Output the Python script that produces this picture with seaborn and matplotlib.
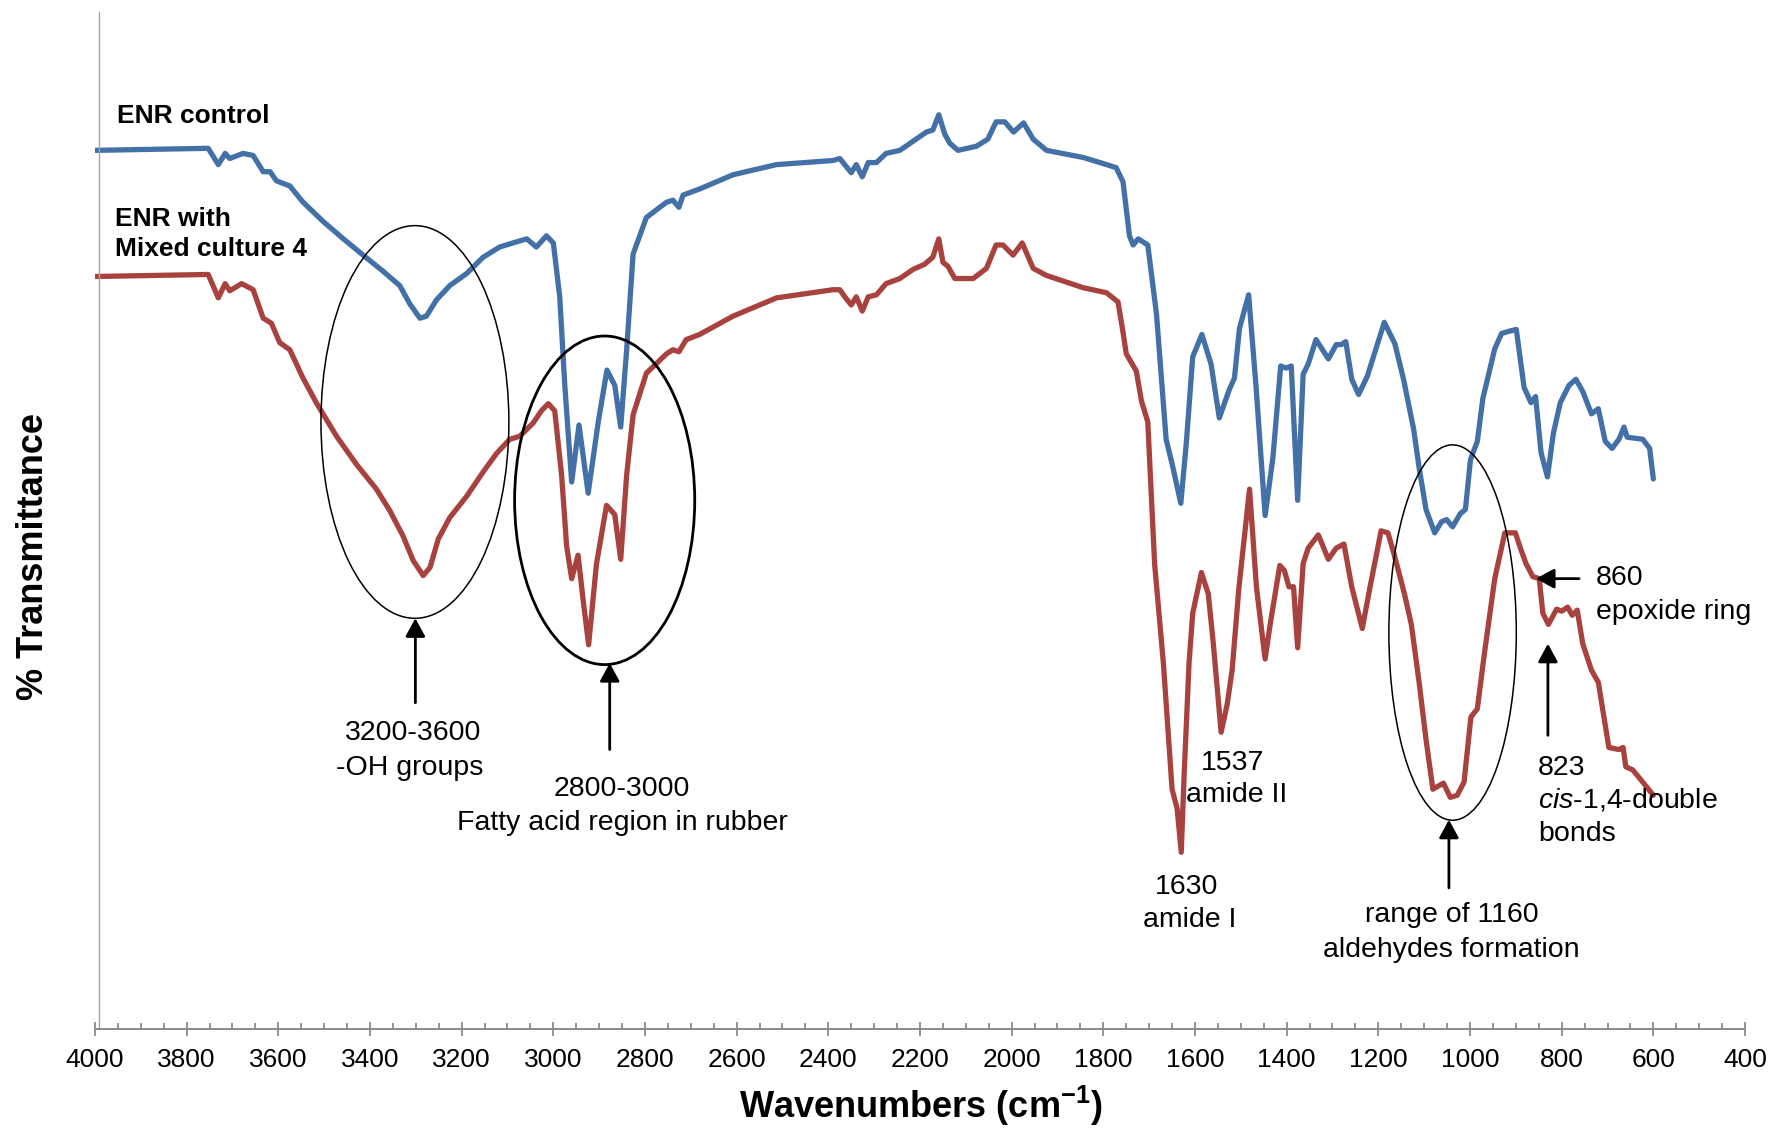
import numpy as np
import pandas as pd
import matplotlib
matplotlib.use("Agg")
import matplotlib.pyplot as plt
from matplotlib.patches import Ellipse
import seaborn as sns

# ---- FTIR spectra (wavenumber in cm-1, % transmittance) ----
control_wn = [4000, 3753, 3731, 3716, 3706, 3677, 3655, 3633, 3618, 3604, 3575, 3546,
              3502, 3458, 3415, 3371, 3335, 3313, 3291, 3277, 3255, 3226, 3189, 3153,
              3117, 3088, 3058, 3037, 3015, 3000, 2986, 2975, 2960, 2944, 2924, 2902,
              2883, 2866, 2853, 2840, 2826, 2797, 2753, 2739, 2726, 2717, 2681, 2608,
              2513, 2390, 2375, 2350, 2339, 2326, 2313, 2295, 2274, 2244, 2215, 2186,
              2172, 2159, 2146, 2135, 2117, 2077, 2052, 2034, 2015, 1996, 1974, 1953,
              1924, 1844, 1793, 1772, 1757, 1743, 1735, 1724, 1703, 1684, 1663, 1648,
              1631, 1619, 1605, 1585, 1565, 1547, 1525, 1514, 1503, 1483, 1467, 1447,
              1430, 1413, 1401, 1390, 1376, 1364, 1353, 1336, 1309, 1292, 1281, 1271,
              1258, 1243, 1224, 1187, 1164, 1145, 1123, 1111, 1096, 1077, 1062, 1051,
              1038, 1021, 1010, 999, 984, 972, 946, 931, 916, 899, 882, 867, 857, 845,
              831, 818, 803, 784, 769, 754, 735, 720, 705, 690, 675, 664, 657, 623,
              608, 600]
control_t = [86.4, 86.6, 85.0, 86.1, 85.6, 86.1, 85.9, 84.3, 84.3, 83.4, 82.9, 81.3,
             79.4, 77.7, 76.1, 74.5, 73.1, 71.3, 69.9, 70.1, 71.7, 73.1, 74.3, 75.9,
             76.9, 77.3, 77.7, 76.9, 78.0, 77.3, 72.0, 63.3, 53.8, 59.4, 52.7, 59.7,
             64.8, 63.3, 59.2, 66.8, 76.2, 79.8, 81.3, 81.5, 80.8, 82.0, 82.6, 84.0,
             85.0, 85.4, 85.6, 84.2, 85.0, 83.8, 85.2, 85.2, 86.1, 86.4, 87.3, 88.2,
             88.4, 89.9, 88.0, 87.1, 86.4, 86.8, 87.5, 89.2, 89.2, 88.2, 89.1, 87.5,
             86.4, 85.7, 85.0, 84.7, 83.3, 78.0, 77.1, 77.7, 77.1, 70.3, 58.0, 55.2,
             51.7, 57.6, 66.1, 68.3, 65.4, 60.1, 62.9, 64.0, 68.9, 72.2, 63.3, 50.5,
             56.2, 65.2, 65.0, 65.2, 52.0, 64.4, 65.4, 67.8, 65.9, 67.3, 67.3, 67.6,
             63.9, 62.4, 64.2, 69.5, 67.4, 63.9, 59.0, 55.2, 51.1, 48.8, 49.9, 50.1,
             49.4, 50.7, 51.1, 56.0, 57.8, 62.0, 66.9, 68.4, 68.6, 68.8, 63.1, 61.6, 62.2, 56.7,
             54.3, 58.6, 61.6, 63.3, 63.9, 62.7, 60.5, 61.0, 57.8, 57.1, 58.0, 59.2, 58.2, 58.0,
             57.1, 54.1]

culture_wn = [4000, 3753, 3731, 3716, 3706, 3680, 3655, 3633, 3615, 3597, 3575, 3546,
              3516, 3473, 3429, 3386, 3357, 3328, 3306, 3284, 3269, 3251, 3226, 3189,
              3153, 3124, 3095, 3073, 3044, 3026, 3011, 2997, 2982, 2971, 2960, 2946,
              2935, 2923, 2906, 2884, 2866, 2853, 2840, 2826, 2797, 2753, 2739, 2726,
              2710, 2681, 2608, 2513, 2390, 2375, 2364, 2350, 2339, 2326, 2313, 2295,
              2274, 2244, 2215, 2190, 2172, 2159, 2150, 2139, 2124, 2084, 2055, 2034,
              2019, 1997, 1977, 1953, 1924, 1844, 1793, 1768, 1757, 1750, 1728, 1717,
              1703, 1688, 1669, 1650, 1639, 1630, 1624, 1613, 1605, 1586, 1571, 1560,
              1543, 1530, 1519, 1504, 1481, 1466, 1447, 1436, 1415, 1405, 1395, 1385,
              1376, 1364, 1353, 1331, 1309, 1292, 1275, 1258, 1235, 1218, 1194, 1179,
              1165, 1143, 1128, 1111, 1096, 1081, 1058, 1043, 1028, 1013, 998, 984,
              969, 946, 924, 901, 890, 878, 863, 849, 841, 829, 811, 800, 787, 777,
              766, 754, 735, 720, 697, 675, 666, 660, 645, 623, 600]
culture_t = [74.0, 74.2, 71.9, 73.3, 72.6, 73.3, 72.7, 69.9, 69.4, 67.5, 66.8, 64.0,
             61.5, 58.3, 55.5, 53.1, 51.0, 48.5, 46.1, 44.6, 45.4, 48.2, 50.3, 52.4,
             54.8, 56.6, 58.0, 58.3, 59.6, 60.8, 61.5, 60.8, 54.5, 47.5, 44.3, 46.6,
             42.2, 37.8, 45.7, 51.5, 50.6, 46.2, 54.5, 60.4, 64.5, 66.4, 66.8, 66.6,
             67.8, 68.3, 70.1, 71.9, 72.7, 72.7, 72.0, 71.2, 72.0, 70.6, 72.0, 72.2,
             73.3, 73.8, 74.7, 75.2, 75.9, 77.7, 75.4, 75.0, 73.8, 73.8, 74.8, 77.1,
             77.1, 76.1, 77.3, 74.8, 74.1, 72.9, 72.4, 71.5, 68.5, 66.4, 64.7, 61.8,
             59.7, 45.7, 36.0, 23.6, 21.7, 17.4, 24.7, 36.0, 40.9, 44.9, 42.8, 37.9,
             29.2, 31.9, 35.3, 43.5, 53.1, 43.5, 36.4, 39.8, 45.6, 45.1, 43.5, 43.5,
             37.5, 45.8, 47.3, 48.6, 46.2, 47.3, 47.7, 43.5, 39.4, 43.5, 49.0, 48.8,
             46.6, 42.8, 39.8, 34.1, 28.5, 23.6, 24.2, 22.8, 23.0, 24.3, 30.7, 31.5,
             36.8, 44.3, 48.8, 48.8, 47.3, 45.8, 44.5, 44.3, 40.9, 39.8, 41.3, 41.1, 41.5, 40.7,
             41.2, 37.9, 35.3, 34.1, 27.7, 27.5, 27.7, 25.8, 25.5, 24.3, 23.0]

series_names = ["ENR control", "ENR with Mixed culture 4"]
series_colors = ["#4470A8", "#A8423F"]

x_ticks = list(range(4000, 399, -200))

df = pd.concat([
    pd.DataFrame({"Wavenumber": control_wn, "Transmittance": control_t, "Sample": series_names[0]}),
    pd.DataFrame({"Wavenumber": culture_wn, "Transmittance": culture_t, "Sample": series_names[1]}),
], ignore_index=True)

sns.set_theme(style="white")
plt.rcParams["font.family"] = ["Liberation Sans", "DejaVu Sans"]
plt.rcParams["text.color"] = "black"
plt.rcParams["axes.labelcolor"] = "black"
plt.rcParams["xtick.color"] = "black"
plt.rcParams["mathtext.fontset"] = "custom"
plt.rcParams["mathtext.rm"] = "Liberation Sans"
plt.rcParams["mathtext.it"] = "Liberation Sans:italic"
plt.rcParams["mathtext.bf"] = "Liberation Sans:bold"

fig = plt.figure(figsize=(17.78, 11.31), dpi=100)
ax = fig.add_axes([0.05343, 0.08992, 0.98144 - 0.05343, 0.98939 - 0.08992])

sns.lineplot(data=df, x="Wavenumber", y="Transmittance", hue="Sample",
             palette=dict(zip(series_names, series_colors)), estimator=None,
             linewidth=3.8, legend=False, ax=ax,
             solid_joinstyle="round", solid_capstyle="round")

ax.set_xlim(4000, 400)
ax.set_ylim(0, 100)

# axes styling
axis_grey = "#8a8a8a"
for side in ("top", "right"):
    ax.spines[side].set_visible(False)
ax.spines["left"].set_color("#a6a6a6")
ax.spines["left"].set_linewidth(1.0)
ax.spines["left"].set_position(("data", 3991))
ax.spines["bottom"].set_color(axis_grey)
ax.spines["bottom"].set_linewidth(1.4)
ax.set_yticks([])
ax.set_xticks(x_ticks)
ax.set_xticklabels([str(t) for t in x_ticks])
ax.set_xticks(np.arange(4000, 399, -50), minor=True)
ax.tick_params(axis="x", which="major", direction="inout", length=9.6, width=1.3,
               color=axis_grey, labelsize=19, labelcolor="black", pad=8.5, bottom=True)
ax.tick_params(axis="x", which="minor", direction="in", length=4.3, width=1.3,
               color=axis_grey, bottom=True)

ax.set_xlabel(r"Wavenumbers (cm$^{\mathbf{-1}}$)", fontsize=26, fontweight="bold",
              va="center", color="black")
ax.xaxis.set_label_coords(0.5006, -0.0757)
ax.set_ylabel("% Transmittance", fontsize=26, fontweight="bold", va="center",
              color="black")
ax.yaxis.set_label_coords(-0.037, 0.465)

# series labels
label_kw = dict(fontsize=19, fontweight="bold", ha="left", va="center", color="black")
ax.text(3952, 89.8, "ENR control", **label_kw)
ax.text(3956, 79.7, "ENR with", **label_kw)
ax.text(3956, 76.7, "Mixed culture 4", **label_kw)

# highlighted regions
ax.add_patch(Ellipse((3302, 59.7), 410, 38.6, fill=False, ec="black", lw=1.1, zorder=5))
ax.add_patch(Ellipse((2888, 52.0), 393, 32.3, fill=False, ec="black", lw=2.0, zorder=5))
ax.add_patch(Ellipse((1038, 39.0), 278, 36.9, fill=False, ec="black", lw=1.1, zorder=5))

arrow_kw = dict(arrowstyle="-|>,head_length=0.55,head_width=0.3", color="black",
                lw=2.0, shrinkA=0, shrinkB=0, mutation_scale=20)
ax.annotate("", xy=(3301, 40.4), xytext=(3301, 32.1), arrowprops=arrow_kw)
ax.annotate("", xy=(2877, 36.0), xytext=(2877, 27.5), arrowprops=arrow_kw)
ax.annotate("", xy=(1046, 20.6), xytext=(1046, 13.9), arrowprops=arrow_kw)
ax.annotate("", xy=(856, 44.3), xytext=(762, 44.3), arrowprops=arrow_kw)
ax.annotate("", xy=(830, 37.9), xytext=(830, 28.9), arrowprops=arrow_kw)

fs = 20.5
centered = [
    ("3200-3600", 3306, 29.1),
    ("-OH groups", 3313, 25.7),
    ("2800-3000", 2851, 23.6),
    ("Fatty acid region in rubber", 2849, 20.3),
    ("1630", 1619, 14.0),
    ("amide I", 1612, 10.7),
    ("1537", 1519, 26.2),
    ("amide II", 1509, 23.0),
    ("range of 1160", 1040, 11.2),
    ("aldehydes formation", 1040, 7.8),
]
for txt, xw, yv in centered:
    ax.text(xw, yv, txt, fontsize=fs, ha="center", va="center", color="black", zorder=6)

left_aligned = [
    ("860", 726, 44.4),
    ("epoxide ring", 726, 41.0),
    ("823", 852, 25.7),
    (r"$\it{cis}$-1,4-double", 852, 22.5),
    ("bonds", 852, 19.2),
]
for txt, xw, yv in left_aligned:
    ax.text(xw, yv, txt, fontsize=fs, ha="left", va="center", color="black", zorder=6)

fig.savefig("out.png", dpi=100)
